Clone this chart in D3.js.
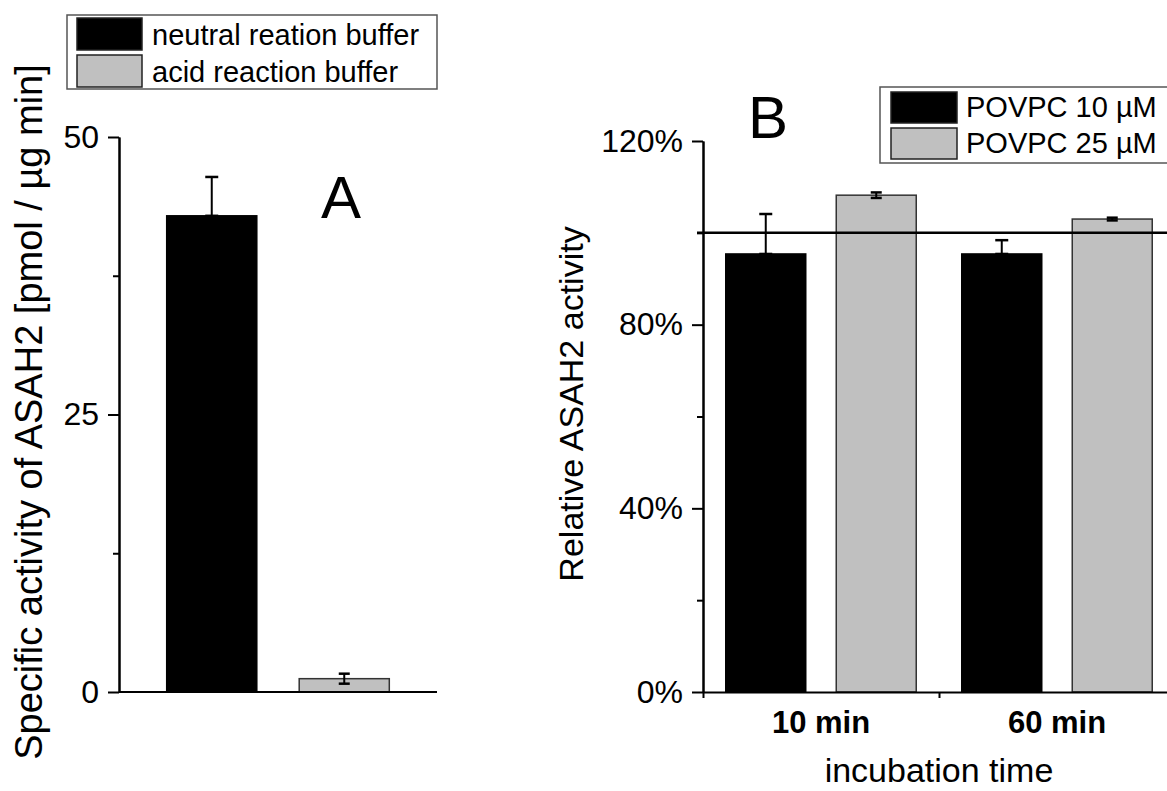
<!DOCTYPE html>
<html>
<head>
<meta charset="utf-8">
<script src="https://cdn.jsdelivr.net/npm/d3@7"></script>
<style>
  html, body { margin: 0; padding: 0; background: #fff; }
  svg { display: block; font-family: "Liberation Sans", Arial, sans-serif; }
</style>
</head>
<body>
<svg id="chart" width="1167" height="791"></svg>
<script>
// ---- Panel A: specific activity by buffer ----
const bufferCategories = ["neutral reation buffer", "acid reaction buffer"];
const bufferActivity = [42.9, 1.2];
const bufferError = [3.5, 0.45];
const bufferColors = ["#000000", "#c0c0c0"];
const activityTicks = [0, 25, 50];
const activityMinorTicks = [12.5, 37.5];

// ---- Panel B: relative activity by incubation time ----
const incubationTimes = ["10 min", "60 min"];
const povpcSeries = ["POVPC 10 µM", "POVPC 25 µM"];
const povpc10Values = [95.4, 95.4];
const povpc25Values = [108.2, 103.0];
const povpc10Error = [8.7, 3.0];
const povpc25Error = [0.6, 0.3];
const seriesColors = ["#000000", "#c0c0c0"];
const relativeTicks = [0, 40, 80, 120];
const relativeMinorTicks = [20, 60, 100];
const referenceLevel = 100;

const svg = d3.select("#chart");
const AXIS_W = 2;

function styleAxis(g) {
  g.select(".domain").attr("stroke", "#000").attr("stroke-width", AXIS_W);
  g.selectAll(".tick line").attr("stroke", "#000").attr("stroke-width", AXIS_W);
  g.selectAll(".tick text").attr("fill", "#000");
}

function errorBar(g, cx, yTop, yBot, capW) {
  g.append("line").attr("x1", cx).attr("x2", cx).attr("y1", yTop).attr("y2", yBot)
    .attr("stroke", "#000").attr("stroke-width", 2);
  [yTop, yBot].forEach(y => g.append("line")
    .attr("x1", cx - capW / 2).attr("x2", cx + capW / 2).attr("y1", y).attr("y2", y)
    .attr("stroke", "#000").attr("stroke-width", 2.5));
}

// ================= Panel A =================
const yA = d3.scaleLinear().domain([0, 50]).range([692, 137]);
const xA = d3.scaleBand().domain(bufferCategories).range([119, 437])
  .paddingInner(0.32).paddingOuter(0.36);

const gA = svg.append("g");

// bars with error bars (upper arm only on the black bar)
bufferCategories.forEach((c, i) => {
  const v = bufferActivity[i], e = bufferError[i];
  const x0 = xA(c), w = xA.bandwidth(), cx = x0 + w / 2;
  gA.append("rect").attr("x", x0).attr("y", yA(v))
    .attr("width", w).attr("height", yA(0) - yA(v))
    .attr("fill", bufferColors[i]).attr("stroke", i === 0 ? "#000" : "#333").attr("stroke-width", 1.5);
  if (i === 0) errorBar(gA, cx, yA(v + e), yA(v), 13);
  else errorBar(gA, cx, yA(v + e), yA(v - e), 11);
});

// x axis line (no ticks)
gA.append("line").attr("x1", 119).attr("x2", 437).attr("y1", yA(0)).attr("y2", yA(0))
  .attr("stroke", "#000").attr("stroke-width", AXIS_W);

// y axis
const yAxisA = gA.append("g").attr("transform", "translate(119,0)")
  .call(d3.axisLeft(yA).tickValues(activityTicks).tickSize(11).tickSizeOuter(0).tickPadding(9)
    .tickFormat(d3.format("d")));
styleAxis(yAxisA);
yAxisA.selectAll(".tick text").attr("font-size", 32);
const yAxisAminor = gA.append("g").attr("transform", "translate(119,0)")
  .call(d3.axisLeft(yA).tickValues(activityMinorTicks).tickSize(6).tickSizeOuter(0).tickFormat(""));
styleAxis(yAxisAminor);

// y title
gA.append("text").attr("transform", "translate(42,412) rotate(-90)")
  .attr("text-anchor", "middle").attr("font-size", 38).attr("fill", "#000")
  .text("Specific activity of ASAH2 [pmol / µg min]");

// panel letter
gA.append("text").attr("x", 341).attr("y", 218).attr("text-anchor", "middle")
  .attr("font-size", 60).attr("fill", "#000").text("A");

// legend
const legA = gA.append("g");
legA.append("rect").attr("x", 67).attr("y", 15).attr("width", 370).attr("height", 74)
  .attr("fill", "#fff").attr("stroke", "#555").attr("stroke-width", 1.5);
bufferCategories.forEach((c, i) => {
  legA.append("rect").attr("x", 77).attr("y", 18 + i * 37).attr("width", 65).attr("height", 32)
    .attr("fill", bufferColors[i]).attr("stroke", "#222").attr("stroke-width", 1.5);
  legA.append("text").attr("x", 152).attr("y", 45 + i * 37).attr("font-size", 29)
    .attr("fill", "#000").text(c);
});

// ================= Panel B =================
const yB = d3.scaleLinear().domain([0, 120]).range([692, 141]);
const xB = d3.scaleBand().domain(incubationTimes).range([703, 1175]).padding(0);
const xSub = d3.scaleBand().domain(povpcSeries).range([0, xB.bandwidth()])
  .paddingInner(0.276).paddingOuter(0.206);

const gB = svg.append("g");
const seriesValues = [povpc10Values, povpc25Values];
const seriesErrors = [povpc10Error, povpc25Error];

incubationTimes.forEach((t, gi) => {
  povpcSeries.forEach((s, si) => {
    const v = seriesValues[si][gi], e = seriesErrors[si][gi];
    const x0 = xB(t) + xSub(s), w = xSub.bandwidth(), cx = x0 + w / 2;
    gB.append("rect").attr("x", x0).attr("y", yB(v))
      .attr("width", w).attr("height", yB(0) - yB(v))
      .attr("fill", seriesColors[si]).attr("stroke", si === 0 ? "#000" : "#333").attr("stroke-width", 1.5);
    if (si === 0) errorBar(gB, cx, yB(v + e), yB(v), 13);
    else errorBar(gB, cx, yB(v + e), yB(v - e), 11);
  });
});

// reference line at 100 %
gB.append("line").attr("x1", 697).attr("x2", 1175)
  .attr("y1", yB(referenceLevel)).attr("y2", yB(referenceLevel))
  .attr("stroke", "#000").attr("stroke-width", 2.5);

// y axis
const yAxisB = gB.append("g").attr("transform", "translate(703,0)")
  .call(d3.axisLeft(yB).tickValues(relativeTicks).tickSize(11).tickSizeOuter(0).tickPadding(9)
    .tickFormat(d => d + "%"));
styleAxis(yAxisB);
yAxisB.selectAll(".tick text").attr("font-size", 32);
const yAxisBminor = gB.append("g").attr("transform", "translate(703,0)")
  .call(d3.axisLeft(yB).tickValues(relativeMinorTicks).tickSize(6).tickSizeOuter(0).tickFormat(""));
styleAxis(yAxisBminor);

// x axis: category labels at band centres, ticks at band boundaries
const xAxisB = gB.append("g").attr("transform", `translate(0,${yB(0)})`)
  .call(d3.axisBottom(xB).tickSize(0).tickSizeOuter(0).tickPadding(19));
styleAxis(xAxisB);
xAxisB.selectAll(".tick text").attr("font-size", 31).attr("font-weight", "bold");
const boundaries = d3.scaleLinear().domain([0, incubationTimes.length]).range(xB.range());
const xBoundB = gB.append("g").attr("transform", `translate(0,${yB(0)})`)
  .call(d3.axisBottom(boundaries).tickValues(d3.range(incubationTimes.length + 1))
    .tickSize(6).tickSizeOuter(0).tickFormat(""));
styleAxis(xBoundB);
xBoundB.select(".domain").remove();

// x title
gB.append("text").attr("x", 939).attr("y", 782).attr("text-anchor", "middle")
  .attr("font-size", 34).attr("fill", "#000").text("incubation time");

// y title
gB.append("text").attr("transform", "translate(583,404) rotate(-90)")
  .attr("text-anchor", "middle").attr("font-size", 34).attr("fill", "#000")
  .text("Relative ASAH2 activity");

// panel letter
gB.append("text").attr("x", 768).attr("y", 138).attr("text-anchor", "middle")
  .attr("font-size", 60).attr("fill", "#000").text("B");

// legend
const legB = gB.append("g");
legB.append("rect").attr("x", 880).attr("y", 87).attr("width", 300).attr("height", 76)
  .attr("fill", "#fff").attr("stroke", "#555").attr("stroke-width", 1.5);
povpcSeries.forEach((s, i) => {
  legB.append("rect").attr("x", 891).attr("y", 92 + i * 36).attr("width", 66).attr("height", 31)
    .attr("fill", seriesColors[i]).attr("stroke", "#222").attr("stroke-width", 1.5);
  legB.append("text").attr("x", 966).attr("y", 117 + i * 36).attr("font-size", 29)
    .attr("fill", "#000").text(s);
});
</script>
</body>
</html>
